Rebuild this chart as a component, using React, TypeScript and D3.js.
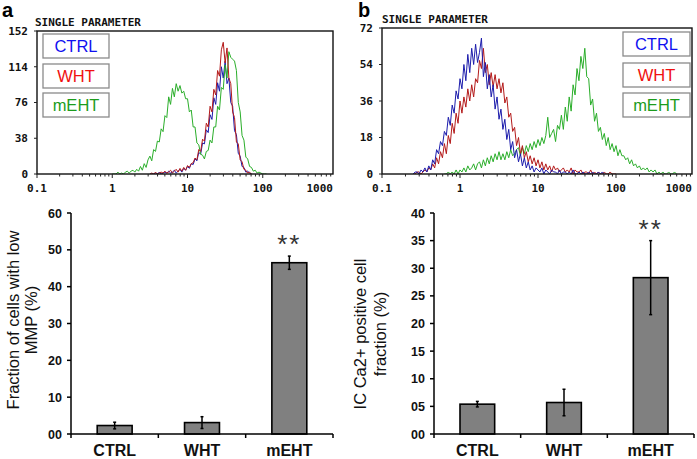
import React from "react";
import * as d3 from "d3";

// ---------- Data ----------
const groups = ["CTRL", "WHT", "mEHT"];
const legendTextColors = ["#1010f0", "#f01010", "#1c9c1c"];
const lineColors = ["#1c1cac", "#b41a1a", "#2aae2a"];

const histXTicks = [0.1, 1, 10, 100, 1000];
const histXTickLabels = ["0.1", "1", "10", "100", "1000"];
const histATicks = [0, 38, 76, 114, 152];
const histBTicks = [0, 18, 36, 54, 72];

// channel spacing in log10 units
const channelStep = 0.025;

// Panel a histograms (log10 start of first channel + counts)
const aCtrlStart = 0.5;
const aCtrl = [0,0,0,1,0,2,0,1,2,1,3,1,2,4,1,3,5,2,6,4,8,6,11,10,16,14,23,21,33,32,47,44,63,58,81,74,97,88,114,102,120,96,102,76,72,46,42,22,19,8,7,2,3,1,0];
const aWhtStart = 0.5;
const aWht = [0,1,0,2,0,1,2,1,3,1,2,4,1,3,5,2,6,3,7,4,9,7,11,12,17,15,26,24,37,35,54,50,72,66,90,84,110,104,132,140,118,134,102,96,66,60,34,32,15,13,5,4,1,2,0];
const aMehtStart = 0.0;
const aMeht = [0,0,0,2,0,1,0,2,3,1,3,4,2,5,3,8,4,11,7,15,19,14,26,24,35,34,48,45,62,60,82,74,91,82,96,88,94,86,88,80,80,66,68,50,50,33,31,21,20,16,24,25,36,33,50,50,72,68,92,90,116,102,130,124,122,120,110,76,66,41,36,18,16,8,7,3,4,1,2,1,0,0,0];

// Panel b histograms
const bCtrlStart = -0.6;
const bCtrl = [0,1,1,0,2,1,3,1,4,2,7,5,12,10,16,14,21,19,28,24,34,30,41,37,47,42,54,46,59,50,62,54,64,55,60,67,48,55,42,49,38,44,32,38,27,32,22,27,17,22,12,16,8,12,6,10,4,8,3,6,2,4,1,3,2,1,3,0,2,1,0,2,1,1,0,2,0,1,1,0,1,0,2,0,0,1,0,1,0,0,1,0,1,0,0,1,0,1,0];
const bWhtStart = -0.6;
const bWht = [0,0,1,1,0,1,2,1,3,2,5,3,8,5,11,8,15,10,19,15,25,20,30,25,36,30,38,33,42,36,44,38,47,45,56,52,62,50,54,44,50,43,49,42,47,40,45,35,38,28,30,21,23,14,18,10,14,8,11,6,9,5,8,4,7,3,6,2,5,2,4,1,4,2,3,1,2,3,1,2,1,3,0,2,1,1,2,0,1,1,0,2,0,1,0,1,0,0,1,0,0,1,0,0,0];
const bMehtStart = -0.2;
const bMeht = [0,0,1,0,1,0,2,0,2,1,3,1,4,2,3,5,2,5,6,3,7,4,8,5,9,6,10,7,11,7,10,7,11,8,12,9,10,12,13,9,13,10,14,11,15,12,16,13,17,14,18,15,19,28,18,20,22,16,24,22,29,22,33,26,38,31,44,39,52,46,58,52,62,48,47,34,37,26,30,21,23,17,20,14,18,12,15,11,14,9,12,9,9,7,8,5,7,4,5,3,4,2,3,2,3,1,2,1,2,0,1,0,1,0,0,1,0,0,1,0];

// Bar charts
const mmpMeans = [2.3, 3.1, 46.5];
const mmpErrors = [0.9, 1.6, 1.8];
const mmpTicks = [0, 10, 20, 30, 40, 50, 60];
const caMeans = [5.4, 5.7, 28.3];
const caErrors = [0.5, 2.4, 6.7];
const caTicks = [0, 5, 10, 15, 20, 25, 30, 35, 40];
const significance = ["", "", "**"];

const MONO = "'DejaVu Sans Mono', monospace";
const SANS = "'Liberation Sans', Arial, sans-serif";

type Box = { x0: number; x1: number; y0: number; y1: number };

function Histogram(props: {
  id: string;
  box: Box;
  xEnd: number;
  yTicks: number[];
  series: { start: number; counts: number[]; color: string }[];
  legendX: number;
  legendYs: number[];
  legendW: number;
  legendH: number;
  titleX: number;
  titleY: number;
}) {
  const { id, box, xEnd, yTicks, series, legendX, legendYs, legendW, legendH, titleX, titleY } = props;
  const hx = d3.scaleLog().domain([0.1, 1000]).range([box.x0, xEnd]);
  const hy = d3.scaleLinear().domain([0, yTicks[yTicks.length - 1]]).range([box.y1, box.y0]);
  const line = d3
    .line<[number, number]>()
    .x((d) => hx(d[0]))
    .y((d) => hy(d[1]))
    .curve(d3.curveLinear);

  const minor: { v: number; major: boolean }[] = [];
  [0.1, 1, 10, 100].forEach((dec) => {
    for (let k = 1; k <= 9; k++) minor.push({ v: dec * k, major: k === 1 });
  });

  return (
    <g>
      <defs>
        <clipPath id={id}>
          <rect x={box.x0} y={box.y0} width={box.x1 - box.x0} height={box.y1 - box.y0} />
        </clipPath>
      </defs>
      <text x={titleX} y={titleY} fontFamily={MONO} fontWeight="bold" fontSize={11} fill="#111">
        SINGLE PARAMETER
      </text>
      <rect x={box.x0} y={box.y0} width={box.x1 - box.x0} height={box.y1 - box.y0} fill="#fff" />
      <g clipPath={`url(#${id})`}>
        {series.map((s, si) => (
          <path
            key={si}
            d={line(s.counts.map((c, i) => [Math.pow(10, s.start + i * channelStep), c] as [number, number])) || ""}
            fill="none"
            stroke={s.color}
            strokeWidth={1}
            strokeLinejoin="miter"
          />
        ))}
      </g>
      <rect x={box.x0} y={box.y0} width={box.x1 - box.x0} height={box.y1 - box.y0} fill="none" stroke="#111" strokeWidth={1.4} />
      {minor
        .filter((m) => hx(m.v) <= box.x1 + 0.5)
        .map((m, i) => (
          <line key={i} x1={hx(m.v)} x2={hx(m.v)} y1={box.y1} y2={box.y1 + (m.major ? 4 : 2.5)} stroke="#222" strokeWidth={1} />
        ))}
      {histXTicks.map((v, i) => {
        const last = i === histXTicks.length - 1;
        return (
          <text
            key={v}
            x={last ? box.x1 : hx(v)}
            y={box.y1 + 18}
            textAnchor={last ? "end" : "middle"}
            fontFamily={MONO}
            fontWeight="bold"
            fontSize={11}
            fill="#111"
          >
            {histXTickLabels[i]}
          </text>
        );
      })}
      {yTicks.map((t) => (
        <g key={t}>
          <line x1={box.x0 - 3} x2={box.x0} y1={hy(t)} y2={hy(t)} stroke="#222" strokeWidth={1} />
          <text x={box.x0 - 9} y={hy(t)} dy="0.35em" textAnchor="end" fontFamily={MONO} fontWeight="bold" fontSize={11} fill="#111">
            {t}
          </text>
        </g>
      ))}
      {groups.map((g, i) => (
        <g key={g}>
          <rect x={legendX} y={legendYs[i]} width={legendW} height={legendH} fill="#fff" stroke="#8a8a8a" strokeWidth={1.3} />
          <text
            x={legendX + legendW / 2}
            y={legendYs[i] + legendH / 2}
            dy="0.36em"
            textAnchor="middle"
            fontFamily={SANS}
            fontSize={16.5}
            fill={legendTextColors[i]}
          >
            {g}
          </text>
        </g>
      ))}
    </g>
  );
}

function BarPanel(props: {
  axisX: number;
  axisRight: number;
  means: number[];
  errors: number[];
  ticks: number[];
  titleLines: string[];
  titleXs: number[];
  titleCY: number;
}) {
  const { axisX, axisRight, means, errors, ticks, titleLines, titleXs, titleCY } = props;
  const y0 = 434;
  const yTop = 213;
  const y = d3.scaleLinear().domain([0, ticks[ticks.length - 1]]).range([y0, yTop]);
  const x = d3.scaleBand<string>().domain(groups).range([axisX, axisRight]).paddingInner(0.6).paddingOuter(0.3);
  const step = x.step();
  const fmt = (v: number) => (v < 10 ? "0" + v : String(v));
  return (
    <g>
      {titleLines.map((t, i) => (
        <text
          key={i}
          transform={`translate(${titleXs[i]},${titleCY}) rotate(-90)`}
          textAnchor="middle"
          fontFamily={SANS}
          fontSize={16.5}
          fill="#111"
        >
          {t}
        </text>
      ))}
      {groups.map((g, i) => {
        const bx = x(g)!;
        const cx = bx + x.bandwidth() / 2;
        const top = y(means[i] + errors[i]);
        const bot = y(means[i] - errors[i]);
        return (
          <g key={g}>
            <rect x={bx} y={y(means[i])} width={x.bandwidth()} height={y0 - y(means[i])} fill="#808080" stroke="#000" strokeWidth={1.6} />
            <line x1={cx} x2={cx} y1={top} y2={bot} stroke="#000" strokeWidth={1.5} />
            <line x1={cx - 1.5} x2={cx + 1.5} y1={top} y2={top} stroke="#000" strokeWidth={1.5} />
            <line x1={cx - 1.5} x2={cx + 1.5} y1={bot} y2={bot} stroke="#000" strokeWidth={1.5} />
            {significance[i] && (
              <text x={cx} y={top - 3} textAnchor="middle" fontFamily={SANS} fontSize={26} letterSpacing={2} fill="#333">
                {significance[i]}
              </text>
            )}
            <text x={cx} y={456} textAnchor="middle" fontFamily={SANS} fontWeight="bold" fontSize={16} fill="#111">
              {g}
            </text>
          </g>
        );
      })}
      <line x1={axisX} x2={axisX} y1={yTop} y2={y0} stroke="#000" strokeWidth={1.5} />
      <line x1={axisX} x2={axisRight} y1={y0} y2={y0} stroke="#000" strokeWidth={1.5} />
      {ticks.map((t) => (
        <g key={t}>
          <line x1={axisX - 4} x2={axisX} y1={y(t)} y2={y(t)} stroke="#000" strokeWidth={1.5} />
          <text x={axisX - 9} y={y(t)} dy="0.36em" textAnchor="end" fontFamily={SANS} fontWeight="bold" fontSize={12.5} fill="#111">
            {fmt(t)}
          </text>
        </g>
      ))}
      {[0, 1, 2, 3].map((i) => (
        <line key={i} x1={axisX + i * step} x2={axisX + i * step} y1={y0} y2={y0 + 4} stroke="#000" strokeWidth={1.5} />
      ))}
    </g>
  );
}

export default function App() {
  return (
    <svg width={697} height={459} style={{ position: "absolute", left: 0, top: 0, background: "#fff" }}>
      <rect width={697} height={459} fill="#fff" />
      <text x={2} y={17} fontFamily={SANS} fontWeight="bold" fontSize={20} fill="#000">a</text>
      <text x={358} y={17} fontFamily={SANS} fontWeight="bold" fontSize={20} fill="#000">b</text>
      <Histogram
        id="clipA"
        box={{ x0: 37, x1: 333, y0: 31, y1: 174 }}
        xEnd={338}
        yTicks={histATicks}
        series={[
          { start: aCtrlStart, counts: aCtrl, color: lineColors[0] },
          { start: aMehtStart, counts: aMeht, color: lineColors[2] },
          { start: aWhtStart, counts: aWht, color: lineColors[1] },
        ]}
        legendX={43}
        legendYs={[34, 64, 93]}
        legendW={66}
        legendH={24}
        titleX={35}
        titleY={26}
      />
      <Histogram
        id="clipB"
        box={{ x0: 382, x1: 692, y0: 28, y1: 174 }}
        xEnd={694}
        yTicks={histBTicks}
        series={[
          { start: bMehtStart, counts: bMeht, color: lineColors[2] },
          { start: bWhtStart, counts: bWht, color: lineColors[1] },
          { start: bCtrlStart, counts: bCtrl, color: lineColors[0] },
        ]}
        legendX={623}
        legendYs={[32, 63, 93]}
        legendW={67}
        legendH={24}
        titleX={382}
        titleY={23}
      />
      <BarPanel
        axisX={71}
        axisRight={333}
        means={mmpMeans}
        errors={mmpErrors}
        ticks={mmpTicks}
        titleLines={["Fraction of cells with low", "MMP (%)"]}
        titleXs={[19, 37]}
        titleCY={320}
      />
      <BarPanel
        axisX={434}
        axisRight={694}
        means={caMeans}
        errors={caErrors}
        ticks={caTicks}
        titleLines={["IC Ca2+ positive cell", "fraction (%)"]}
        titleXs={[366, 386]}
        titleCY={334}
      />
    </svg>
  );
}
